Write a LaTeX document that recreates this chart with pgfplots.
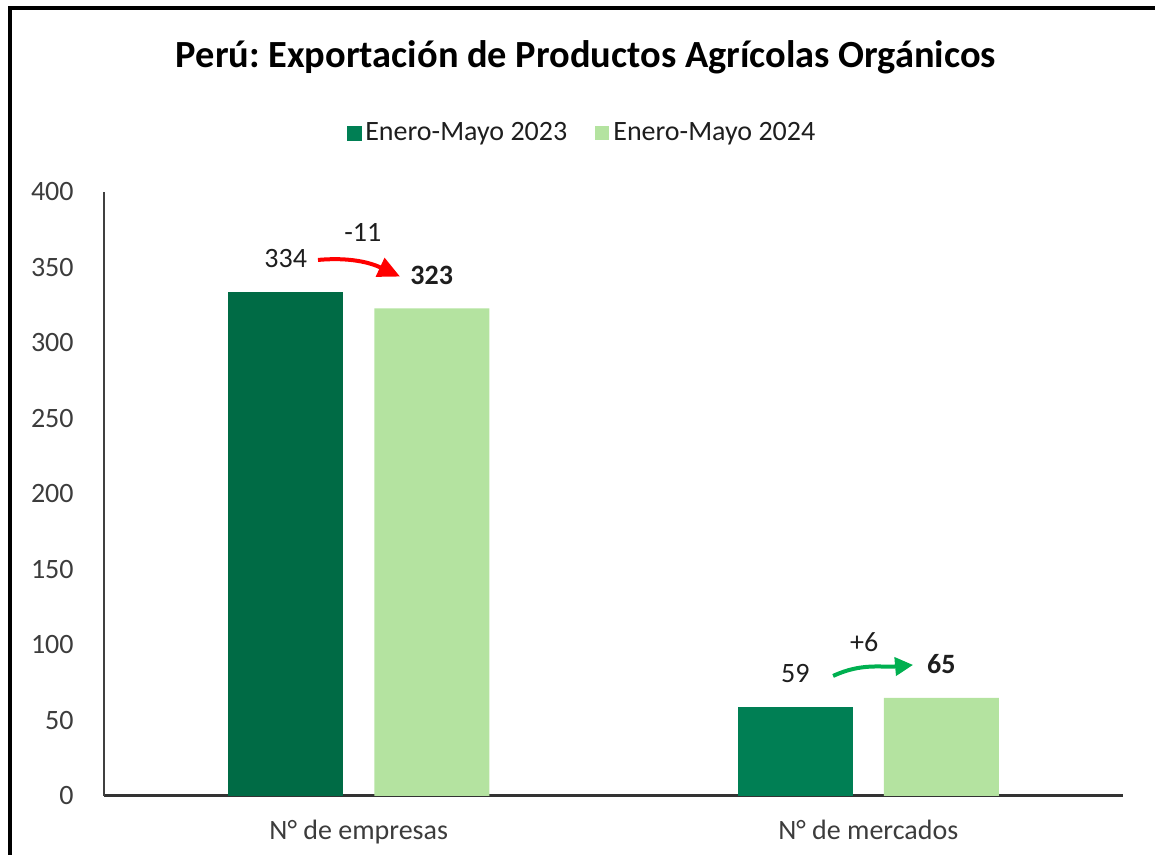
\documentclass[border=0pt]{standalone}
\usepackage{pgfplots}
\pgfplotsset{compat=1.18}
\usepackage{fontspec}
\setmainfont{Carlito}
\usetikzlibrary{arrows.meta}
\definecolor{darkA}{RGB}{0,107,69}
\definecolor{darkB}{RGB}{0,127,84}
\definecolor{lightG}{RGB}{180,227,160}
\definecolor{txt}{RGB}{30,30,30}
\definecolor{tickc}{RGB}{60,60,60}
\definecolor{arrRed}{RGB}{255,0,0}
\definecolor{arrGreen}{RGB}{0,176,80}
\frenchspacing
\begin{document}
\begin{tikzpicture}
\useasboundingbox (0,0) rectangle (577.5pt,427.5pt);
\draw[line width=2pt] (5pt,-20pt) -- (5pt,423.5pt) -- (620pt,423.5pt);
\node[font=\fontsize{19.2}{21}\selectfont\bfseries, anchor=base, text=black, inner sep=0pt] at (293pt,393.5pt) {Perú: Exportación de Productos Agrícolas Orgánicos};
\begin{axis}[
  at={(52pt,29.5pt)}, anchor=south west, scale only axis,
  width=509.5pt, height=302pt,
  xmin=-0.5, xmax=1.5, ymin=0, ymax=400,
  axis lines=left, axis line style={-},
  x axis line style={line width=1.5pt, draw=black!80},
  y axis line style={line width=1pt, draw=black!75},
  xtick={0,1}, xticklabels={N° de empresas, N° de mercados},
  ytick={0,50,...,400},
  major tick length=0pt,
  /pgf/number format/assume math mode=true,
  yticklabel style={font=\fontsize{14}{16}\selectfont, text=tickc, anchor=east, inner sep=0pt, xshift=-15pt},
  xticklabel style={font=\fontsize{14}{16}\selectfont, text=tickc, anchor=base, inner sep=0pt, yshift=-22pt},
  legend style={draw=none, fill=none, at={(0.470,1.0977)}, anchor=center,
     font=\fontsize{14}{16}\selectfont, text=txt,
     /tikz/every even column/.append style={column sep=12pt},
     nodes={inner sep=2pt}},
  legend columns=2,
  legend cell align=left,
  clip=false,
]
\addlegendimage{legend image code/.code={\fill[darkB] (0pt,-3.5pt) rectangle (7pt,3.5pt);}}
\addlegendentry{Enero-Mayo 2023}
\addplot[ybar, bar width=57.5pt, bar shift=-36.5pt, fill=darkA, draw=none, forget plot,
  nodes near coords, nodes near coords style={font=\fontsize{14}{16}\selectfont, text=txt, anchor=base, inner sep=0pt, yshift=12pt, xshift=-36.5pt}]
  coordinates {(0,334)};
\addplot[ybar, bar width=57.5pt, bar shift=-36.5pt, fill=darkB, draw=none, forget plot,
  nodes near coords, nodes near coords style={font=\fontsize{14}{16}\selectfont, text=txt, anchor=base, inner sep=0pt, yshift=12pt, xshift=-36.5pt}]
  coordinates {(1,59)};
\addplot[ybar, bar width=57.5pt, bar shift=36.5pt, fill=lightG, draw=none,
  legend image code/.code={\fill[lightG] (0pt,-3.5pt) rectangle (7pt,3.5pt);},
  nodes near coords, nodes near coords style={font=\fontsize{14}{16}\selectfont\bfseries, text=txt, anchor=base, inner sep=0pt, yshift=12pt, xshift=36.5pt}]
  coordinates {(0,323) (1,65)};
\addlegendentry{Enero-Mayo 2024}
\draw[arrRed, line width=2pt, -{Triangle[length=11pt,width=10pt]}] (axis cs:-0.080,355) to[out=5,in=155] (axis cs:0.081,344);
\node[font=\fontsize{14}{16}\selectfont, text=txt, anchor=base, inner sep=0pt] at (axis cs:0.008,367) {-11};
\draw[arrGreen, line width=2pt, -{Triangle[length=9pt,width=9pt]}] (axis cs:0.931,79.5) to[out=25,in=185] (axis cs:1.088,86.8);
\node[font=\fontsize{14}{16}\selectfont, text=txt, anchor=base, inner sep=0pt] at (axis cs:0.992,96) {+6};
\end{axis}
\end{tikzpicture}
\end{document}
